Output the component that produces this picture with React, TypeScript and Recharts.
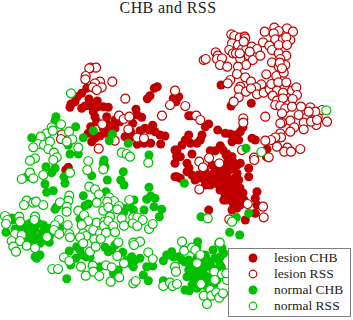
import { ScatterChart, Scatter, XAxis, YAxis, ZAxis, Legend } from 'recharts';

type Pt = [number, number];

const lesionCHB: Pt[] = [
  [157.3,86.7],[154.3,88.3],[150,95.7],[147.3,98.7],[173.3,98.3],[176,101.7],[136,109.3],[137.3,115],[141.7,117.3],
  [86.7,88.3],[81.7,93.3],[77.3,96.7],[75,101.7],[70,107.3],[71,104],[81.7,108.3],[85,106],[89,99],[90.7,106],
  [97.3,101],[97.7,106.7],[103.3,106.7],[108.3,107.3],[93.3,111.7],[95,116.7],[96.7,121.7],[106.7,116.7],[106.7,123.3],
  [115,120],[111.7,126.7],[115,128.3],[132.7,123.3],[130.7,131.7],[145,128.3],[152.7,125.3],[149.3,130],[155,131.7],
  [160,135],[165,136],[140,130.7],[125,136.7],[130.7,137.7],[137.3,144.3],[144,143.3],[150.7,143.3],[160.7,144],
  [90.7,126.7],[88.3,133.3],[91.7,141.7],[100,136],[105,133.3],[110,128.3],[103.3,128.3],[95,138.3],[175,150],[176.7,156.7],[120,121.7],
  [221,85],[231,106],[251.3,103.3],[188.7,115.7],[191,115.7],[208.7,124],[205.3,126.7],[202,135],[200.3,140],[197,143.3],
  [188.7,135],[185.3,140],[182,145],[190.3,143.3],[217.7,130],[225.3,133.3],[230.3,134],[235.3,135],[240.3,131.7],[243,127.3],
  [232,141.7],[238.7,140],[252,138.3],[255.3,140],[267,149.3],[266.3,156.7],[178.7,96.7],[192,154],[210.3,150.7],[220.3,145.7],
  [223,150],[215.3,150.7],[227,154],[232,156.7],[180.3,156.7],
  [187,163.3],[187,171.7],[180.3,178.3],[198.7,175],[205.3,180],[210.3,178.3],[213.7,173.3],[220.3,170],[225.3,166.7],[227,173.3],
  [232,168.3],[237,165],[240.3,163.3],[248.7,168.3],[248.7,176.7],[225.3,180],[232,180],[238.7,180],[222,188.3],[227,193.3],
  [223.7,200],[232,195],[238.7,193.3],[235.3,200],[240.3,200],[232,210],[257,191.7],[255.3,198.3],[257,205],[255.3,213.3],
  [245.3,220],[208.7,210],[177,176.7],[217,176.7],[205.3,185],[228.7,186],[210.3,185],[233.7,186.7],[237,173.3],[222,181.7],[215.3,183.3],
  [221,267.3],[68.3,167.3],[65.7,170],[175,163.3],[175,176.7],[33.3,230],
  [212,165],[217,167],[222,172],[228,160],[233,162],[226,155],[205,171],[200,178],[195,180],[192,175],[208,176],[214,178],
  [219,184],[224,176],[229,170],[235,178],[229,180],[220,190],[225,195],[230,190],[235,190],[240,188],[243,193],[228,198],
  [233,203],[226,200],[240,205],[244,200],[237,208],[177,150],[177,155],[189,168],
];

const lesionRSS: Pt[] = [
  [231.3,34.3],[234.3,36],[239.7,37.7],[244.7,36.7],[232,43.3],[238,45],[229.3,50],[233,53.3],[236,53.3],[242,49.3],[246.3,49.3],
  [251.7,46.7],[257,49],[240.3,59],[248.7,55.7],[252.7,60],[260.3,55.7],[246,65],[238,66.7],[237,74],[245.3,77.3],[215.7,52.3],
  [217.7,55.7],[217,59],[222,58.3],[220,65],[227.3,66.7],[203.7,60],[205.7,59],[230.3,80],[227.7,83.3],[251,81.7],[261.3,84.3],
  [256,87.3],[240.3,86.7],[238.7,89.3],[246,91.7],[251,88.3],[257,94.3],[263.7,92.7],[269.7,89.3],[271.3,84],[276.3,76],[266.3,74.3],
  [278.3,82.3],[286.3,82.3],[277,90.7],[283,92.7],[272.7,95.7],[277,100.7],[283,98.3],[292,90.7],[296.3,87.3],[297,95],[292.7,99],
  [275.3,105],[280.3,106],[285.3,108.3],[292,106.7],[301,106.7],[310.3,107.3],[282,113.3],[290.3,120.7],[298.7,115],[307,117.3],
  [317.7,116.7],[322,110],[327,121.7],[316.3,125],[303.7,122.7],[303.7,129.3],[294.3,127.3],[290.3,131.7],[282,122.7],[280.3,123.3],
  [311,121.7],[238.7,97.3],[233.7,101.7],[265.3,116.7],[243.3,118.3],[243.3,122.7],[280.3,133.3],[281,137.3],[275.3,137.3],[271,140],
  [265.3,140.7],[277,146.7],[287.3,147.7],[284.3,151.7],[291,151.7],[300.3,149],[242,150],[274.3,27.7],[287,28.3],[278.7,31],[293,31.7],
  [264.7,31.7],[273.7,33.3],[275.3,39.3],[282.7,40],[290.3,40],[286.3,37.3],[263,42.3],[269.3,45.7],[272,50],[278.7,45],[287,45],
  [278.7,53.3],[286.3,55.7],[272,62.3],[280.3,59],[285.3,65],[278.7,66.7],[283.7,72.7],[279.7,62.7],[282,68.3],[315.3,111.7],[317,120],
  [308.7,111.7],[245.3,38.3],[243.7,41.7],[249.7,51.7],[239.7,53.3],[185.3,106],[196.3,115.7],[200.3,120],[254,157.7],[268.7,157.3],
  [90.7,67.7],[96,67.7],[89.3,68.3],[85.7,76],[85.3,79.3],[100,81.7],[95,83.3],[92.7,87.3],[101.7,87.3],[96.7,90],[112.3,81.7],
  [125.3,98.7],[170,105],[175,90.7],[162,115.7],[119,115.7],[123.7,119],[129.3,116.7],[128.3,129.3],[137.3,137.7],[144,138.3],
  [62,134.3],[61,139],[114.7,140.7],[98.7,148.7],[102.3,124.3],
  [199.3,161.7],[203,167.3],[209,158],[219.3,163.3],[254.3,160],[199.3,189.3],[247.7,204],[263,206.7],[263.7,217.3],[229.3,219.3],
];

const normalCHB: Pt[] = [
  [56,116.7],[55,120.7],[75.7,126.7],[31.7,137.7],[93.3,130.7],[83.3,137.7],[112.3,134.3],[109.3,140.7],[128.3,143.3],[70,154],[78.3,154],
  [68.3,145],[149,155],[104,160],[246,148.3],
  [46,166.7],[55,168.3],[51.7,172.7],[26.7,176.7],[91.7,175.7],[107.3,180],[123.3,171.7],[120.7,180],[124,185],[64,176.7],[65,183.3],
  [45,184],[53.3,190.7],[46.7,192.3],[149,187.3],[106,191.7],[83.3,195.7],[88.3,204],[85,205.7],[134,200],[130,206.7],[133.3,210],
  [146.7,199.3],[150.7,196],[155,198.3],[154,206.7],[161.7,209.3],[159.3,216.7],[144,210],[124,211.7],[55,209.3],[56.7,206.7],
  [12.7,220],[6,232.3],[15,229],[21.7,226.7],[30,223.3],[31.7,231.7],[38.3,223.3],[43.3,225],[48.3,228.3],[60,228.3],[41.7,233.3],
  [49.3,242.3],[40,243.3],[33.3,238.3],[23.3,235],[20,241.7],[35,256.7],[40,255],[36.7,258.3],[69.3,251],[76.7,246.7],[80,250],
  [81.7,255],[76,258.3],[70.7,265],[86,256.7],[90,257.3],[105,247.3],[108.3,251.7],[115,245],[111.7,250],[122.7,252.3],[100,266.7],
  [113.3,273.3],[118.3,270],[126.7,260],[131.7,256.7],[130,263.3],[140,258.3],[133.3,266.7],[146.7,266.7],[152.7,266],[143.3,275],
  [148.3,280.7],[66.7,278.7],[163.3,280.7],[163.3,260.7],[166.7,255],[171.7,251.7],[173.3,256.7],[135,260],[80,219.3],[83.3,223.3],
  [103.3,163.3],[105,166.7],[123.3,208.3],
  [184.3,183.3],[201,216.7],[236.3,217.3],[248.7,213.3],[229.7,232.3],[239.7,235],[197.7,241.7],[218.7,243.3],[222,248.3],[220.3,256.7],
  [223.7,253.3],[205.3,255],[178.7,256.7],[197,258.3],[190.3,263.3],[188.7,270],[187,276.7],[193.7,281.7],[200.3,275],[207,276.7],
  [205.3,266.7],[210.3,263.3],[213.7,273.3],[189.3,290.7],[197,288.3],[213.7,285],[218.7,260],[188.7,260],[200.3,263.3],[195.3,273.3],
  [207,286.7],[217,280],[222,270],[197,246.7],[182,260],
  [25,230],[27,238],[35,228],[36,243],[44,240],[50,235],[28,242],[27,225],[37,238],[43,233],[12,218],
  [185,262],[192,270],[197,268],[203,272],[207,260],[212,268],[193,263],[200,270],[190,275],[195,280],[203,282],[210,280],
  [220,265],[215,258],[192,285],[200,285],[185,290],[213,250],[170,255],
];

const normalRSS: Pt[] = [
  [71,93.3],[61,124.3],[51.7,127.3],[46.7,133.3],[40.7,136.7],[52.7,130.7],[69,131.7],[72.3,139.3],[66.7,141.7],[38.3,144],[44,145],
  [33.3,147.3],[50,141.7],[48.3,149],[54,152.7],[78.3,147.7],[121.7,152.7],[126.7,154],[130,156.7],[88.3,161],[56.7,157.3],[35,158.3],
  [30,160.7],[53.3,160],[326.3,110.3],[261.3,152],
  [30,172.7],[21.7,179],[33.3,178.3],[43.3,175],[87.3,170],[70,172.7],[103.3,169.3],[148.3,162.7],[89.3,186.7],[95,189.3],[99,194.3],
  [69.3,195.7],[68.3,200.7],[60,202.3],[66.7,206.7],[66.7,211.7],[26.7,200.7],[24,205],[33.3,202.7],[36,201.7],[43.3,205],[109.3,197.3],
  [114,201],[96.7,202.7],[107.3,201.7],[103.3,210.7],[108.3,207.3],[119,206],[117.3,209.3],[129.3,200],[78.3,210.7],[84,215],[88.3,221],
  [81.7,225],[5,216],[7.3,220],[6,224],[19.3,216.7],[20,221.7],[35,216.7],[34.3,220],[59,220],[55,225],[67.7,225],[96.7,222.7],[104.3,221.7],
  [104,225.7],[110,216.7],[108.3,221],[113.3,226],[93.3,230],[100,233.3],[106,232.7],[115,232.3],[83.3,233.3],[86,236],[80,237.3],[69.3,234],
  [70,237.3],[15,234],[21.7,235],[11.7,241],[20,241],[13.3,246.7],[16,251.7],[26.7,245.7],[35,248],[54,230],[47,237],[59.3,234],[83.3,243.3],
  [94.3,239.3],[100.7,239],[90,251.7],[95.7,246.7],[118.3,242.3],[133.3,242.7],[140,241.7],[134,245],[117.3,256],[64,257.3],[69.3,261],[81,266.7],
  [92.7,265.7],[106,265.3],[111.7,267.3],[93.3,271.7],[99.3,276],[85.7,275.7],[52.3,269],[58,269],[119.3,277.3],[110.7,281.7],[124,263.3],
  [133.3,283.3],[135.7,281],[148.3,252.3],[152.7,259],[121.7,218.3],[133.3,217.3],[137.3,217.3],[142.7,220],[124,225.7],[132.7,223.3],[137.3,226],
  [149,229],[152.7,224],[163.3,286],[170,282.7],[172.7,286],[175,266.7],[176,271.7],
  [182,241.7],[184.3,250.7],[192,247.7],[195.3,250],[200.3,255],[197,263.3],[177,284],[201,284],[214.3,271.7],[222,274.3],[214.7,280],[210.3,290],
  [203.7,295.7],[211.3,295.7],[216.3,292.3],[219.3,297.7],[223,293.3],[207,304],[207.7,218.3],[232,221.7],[219.7,242.7],[227,280],[226.3,273.3],
];

const RED = '#c00000';
const GREEN = '#00c000';

const series = [
  { name: 'lesion CHB', points: lesionCHB, color: RED, filled: true },
  { name: 'lesion RSS', points: lesionRSS, color: RED, filled: false },
  { name: 'normal CHB', points: normalCHB, color: GREEN, filled: true },
  { name: 'normal RSS', points: normalRSS, color: GREEN, filled: false },
];

const toRows = (pts: Pt[]) => pts.map(([x, y]) => ({ x, y }));

const serif = '"Liberation Serif", serif';

const renderLegend = () => (
  <div
    style={{
      boxSizing: 'border-box',
      width: 123,
      height: 69,
      background: '#fff',
      border: '1.5px solid #808080',
      fontFamily: serif,
      fontSize: 13.5,
      color: '#222',
    }}
  >
    {series.map((s, i) => (
      <div
        key={s.name}
        style={{ position: 'absolute', left: 0, top: 1.5 + i * 16.2, height: 16, lineHeight: '16px', whiteSpace: 'nowrap' }}
      >
        <svg width={12} height={12} style={{ position: 'absolute', left: 19, top: 2 }}>
          <circle
            cx={6}
            cy={6}
            r={s.filled ? 4.5 : 3.8}
            fill={s.filled ? s.color : '#fff'}
            stroke={s.color}
            strokeWidth={s.filled ? 0 : 1.2}
          />
        </svg>
        <span style={{ position: 'absolute', left: 46 }}>{s.name}</span>
      </div>
    ))}
  </div>
);

export default function App() {
  return (
    <div style={{ position: 'absolute', left: 0, top: 0, width: 353, height: 320 }}>
      <ScatterChart width={353} height={320} margin={{ top: 0, right: 0, bottom: 0, left: 0 }}>
        <XAxis type="number" dataKey="x" domain={[0, 353]} hide />
        <YAxis type="number" dataKey="y" domain={[0, 320]} reversed hide />
        <ZAxis zAxisId="filled" range={[64, 64]} />
        <ZAxis zAxisId="open" range={[45, 45]} />
        <Legend
          layout="horizontal"
          verticalAlign="middle"
          content={renderLegend}
          wrapperStyle={{ left: 228, top: 248, width: 123, height: 69 }}
        />
        {series.map((s) => (
          <Scatter
            key={s.name}
            name={s.name}
            data={toRows(s.points)}
            zAxisId={s.filled ? 'filled' : 'open'}
            fill={s.filled ? s.color : '#fff'}
            stroke={s.filled ? 'none' : s.color}
            strokeWidth={1.2}
            isAnimationActive={false}
          />
        ))}
      </ScatterChart>
      <div
        style={{
          position: 'absolute',
          left: 0,
          top: 0,
          width: 336,
          textAlign: 'center',
          fontFamily: serif,
          fontSize: 16,
          letterSpacing: 0.4,
          lineHeight: '16px',
          color: '#222',
        }}
      >
        CHB and RSS
      </div>
    </div>
  );
}
